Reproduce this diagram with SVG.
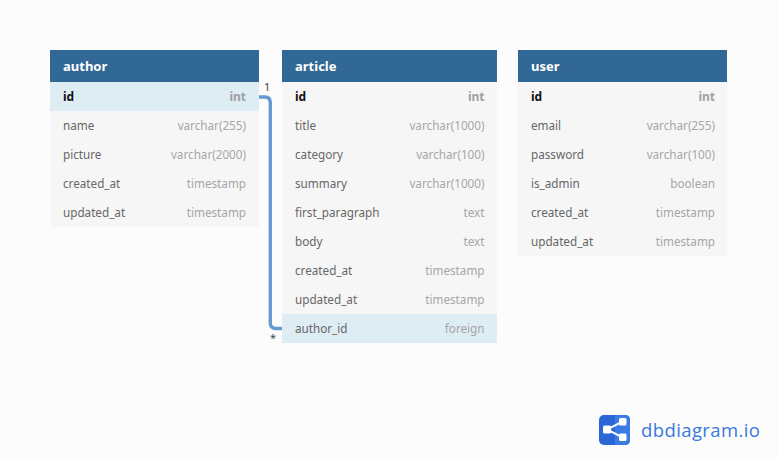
<svg xmlns="http://www.w3.org/2000/svg" width="778" height="458" viewBox="0 0 778 458">
<style>
text{font-family:"Noto Sans","Open Sans",sans-serif;font-size:11.7px}
.h{fill:#316896}.b{fill:#f6f6f6}.hl{fill:#deecf4}
.t{fill:#fff;font-weight:700;font-size:13px}
.n{fill:#666}.k{fill:#111;font-weight:700;font-size:12px}
.ty{fill:#a6a6a6;text-anchor:end}.tk{fill:#a0a0a0;font-weight:700;text-anchor:end;font-size:12px}
.card{fill:#444;font-size:11px}
.nd{fill:#fff}
</style>
<rect width="778" height="458" fill="#fcfcfc"/>
<g id="connectors"><path d="M259 97H265Q270.300 97 270.300 102.500V323Q270.300 328.500 276 328.500H282" fill="none" stroke="#659bd0" stroke-width="3.400"/></g>
<g id="author">
<rect class="h" x="50" y="50" width="209" height="32"/><text class="t" x="63" y="71">author</text>
<rect class="hl" x="50" y="82" width="209" height="29"/><rect class="b" x="50" y="111" width="209" height="116"/>
<text class="k" x="63" y="101">id</text><text class="tk" x="246" y="101">int</text>
<text class="n" x="63" y="130">name</text><text class="ty" x="246" y="130">varchar(255)</text>
<text class="n" x="63" y="159">picture</text><text class="ty" x="246" y="159">varchar(2000)</text>
<text class="n" x="63" y="188">created_at</text><text class="ty" x="246" y="188">timestamp</text>
<text class="n" x="63" y="217">updated_at</text><text class="ty" x="246" y="217">timestamp</text>
</g>
<g id="article">
<rect class="h" x="282" y="50" width="215" height="32"/><text class="t" x="295" y="71">article</text>
<rect class="b" x="282" y="82" width="215" height="232"/><rect class="hl" x="282" y="314" width="215" height="29"/>
<text class="k" x="295" y="101">id</text><text class="tk" x="484.500" y="101">int</text>
<text class="n" x="295" y="130">title</text><text class="ty" x="484.500" y="130">varchar(1000)</text>
<text class="n" x="295" y="159">category</text><text class="ty" x="484.500" y="159">varchar(100)</text>
<text class="n" x="295" y="188">summary</text><text class="ty" x="484.500" y="188">varchar(1000)</text>
<text class="n" x="295" y="217">first_paragraph</text><text class="ty" x="484.500" y="217">text</text>
<text class="n" x="295" y="246">body</text><text class="ty" x="484.500" y="246">text</text>
<text class="n" x="295" y="275">created_at</text><text class="ty" x="484.500" y="275">timestamp</text>
<text class="n" x="295" y="304">updated_at</text><text class="ty" x="484.500" y="304">timestamp</text>
<text class="n" x="295" y="333">author_id</text><text class="ty" x="484.500" y="333">foreign</text>
</g>
<g id="user">
<rect class="h" x="518" y="50" width="209" height="32"/><text class="t" x="531" y="71">user</text>
<rect class="b" x="518" y="82" width="209" height="174"/>
<text class="k" x="531" y="101">id</text><text class="tk" x="715" y="101">int</text>
<text class="n" x="531" y="130">email</text><text class="ty" x="715" y="130">varchar(255)</text>
<text class="n" x="531" y="159">password</text><text class="ty" x="715" y="159">varchar(100)</text>
<text class="n" x="531" y="188">is_admin</text><text class="ty" x="715" y="188">boolean</text>
<text class="n" x="531" y="217">created_at</text><text class="ty" x="715" y="217">timestamp</text>
<text class="n" x="531" y="246">updated_at</text><text class="ty" x="715" y="246">timestamp</text>
</g>
<text class="card" x="264" y="91">1</text><text class="card" x="270" y="342">*</text>
<g id="logo">
<rect x="599" y="415" width="31" height="30" rx="5" fill="#2a66d6"/>
<path d="M615 415H625Q630 415 630 420V440Q630 445 625 445H615Z" fill="#3a7be6"/>
<path d="M622.500 421.700L607 429.500L622.500 437.300" fill="none" stroke="#fff" stroke-width="2"/>
<rect class="nd" x="603" y="425.500" width="8" height="8" rx="1.500"/><rect class="nd" x="619" y="418" width="7.500" height="7.500" rx="1.500"/><rect class="nd" x="619" y="433.500" width="7.500" height="7.500" rx="1.500"/>
<text x="641" y="437" textLength="119" style="font-size:18.500px;fill:#3a78dc;font-family:'Open Sans',sans-serif">dbdiagram.io</text>
</g>
</svg>
